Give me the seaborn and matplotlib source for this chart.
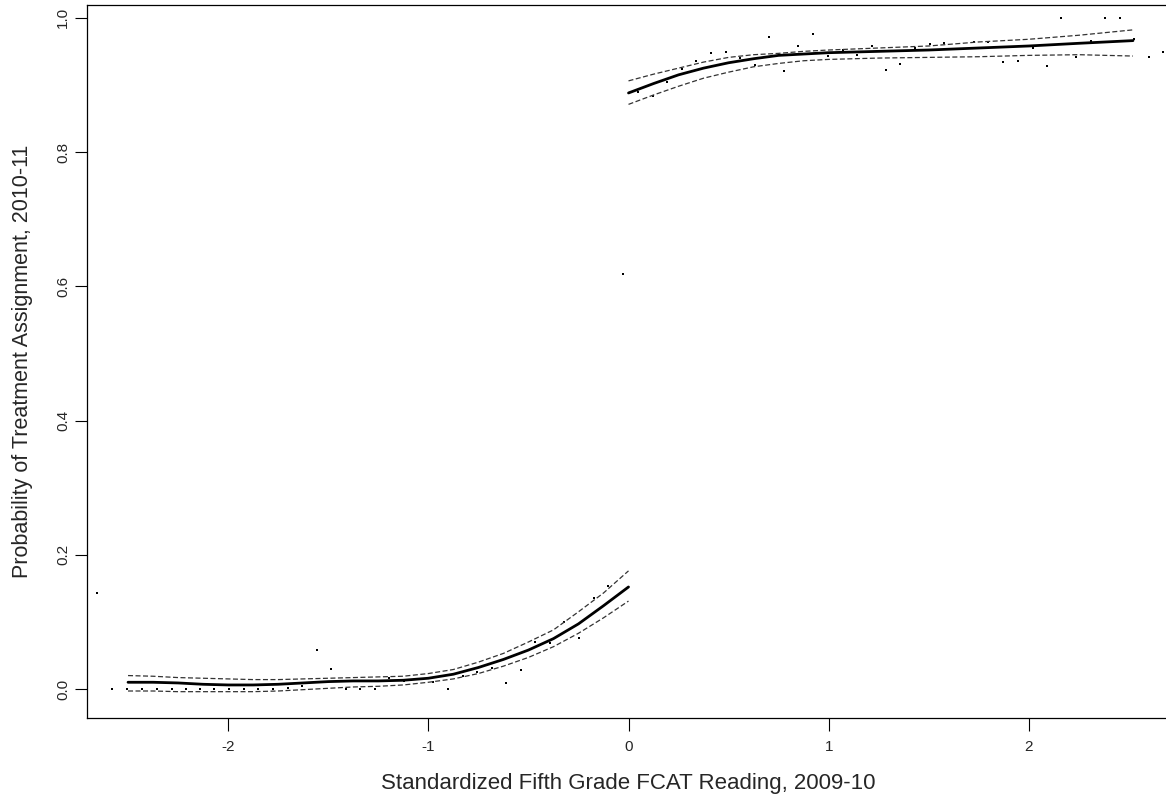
import numpy as np
import pandas as pd
import seaborn as sns
import matplotlib
matplotlib.use("Agg")
import matplotlib.pyplot as plt

# binned means (points)
pt_x = [-2.655, -2.58, -2.505, -2.43, -2.355, -2.28, -2.21, -2.14, -2.07, -1.995,
        -1.92, -1.85, -1.775, -1.70, -1.63, -1.555, -1.485, -1.41, -1.34, -1.265,
        -1.195, -1.12, -1.045, -0.975, -0.90, -0.825, -0.755, -0.68, -0.61, -0.535,
        -0.465, -0.39, -0.32, -0.245, -0.17, -0.10, -0.03,
        0.045, 0.12, 0.19, 0.265, 0.335, 0.41, 0.485, 0.555, 0.63, 0.70,
        0.775, 0.845, 0.92, 0.995, 1.07, 1.14, 1.215, 1.285, 1.355, 1.43,
        1.505, 1.575, 1.655, 1.725, 1.795, 1.87, 1.945, 2.02, 2.09, 2.16,
        2.235, 2.31, 2.38, 2.455, 2.525, 2.60, 2.67]
pt_y = [0.143, 0.0, 0.0, 0.0, 0.0, 0.0, 0.0, 0.0, 0.0, 0.0,
        0.0, 0.0, 0.0, 0.002, 0.004, 0.058, 0.030, 0.0, 0.0, 0.0,
        0.016, 0.012, 0.015, 0.010, 0.0, 0.020, 0.026, 0.031, 0.009, 0.028,
        0.070, 0.069, 0.100, 0.076, 0.136, 0.154, 0.618,
        0.890, 0.884, 0.905, 0.924, 0.936, 0.948, 0.949, 0.940, 0.930, 0.972,
        0.921, 0.958, 0.976, 0.943, 0.952, 0.945, 0.958, 0.922, 0.931, 0.955,
        0.961, 0.963, 0.954, 0.964, 0.964, 0.934, 0.936, 0.955, 0.928, 1.0,
        0.942, 0.966, 1.0, 1.0, 0.969, 0.942, 0.949]

# fitted curve below cutoff
lo_x = [-2.5, -2.375, -2.25, -2.125, -2.0, -1.875, -1.75, -1.625, -1.5, -1.375, -1.25,
        -1.125, -1.0, -0.875, -0.75, -0.625, -0.5, -0.375, -0.25, -0.125, 0.0]
lo_fit = [0.010, 0.010, 0.009, 0.007, 0.006, 0.006, 0.007, 0.009, 0.011, 0.012, 0.012,
          0.013, 0.016, 0.022, 0.032, 0.044, 0.058, 0.075, 0.097, 0.124, 0.152]
lo_upr = [0.020, 0.019, 0.017, 0.016, 0.015, 0.014, 0.014, 0.015, 0.016, 0.017, 0.018,
          0.019, 0.023, 0.029, 0.040, 0.053, 0.070, 0.088, 0.115, 0.143, 0.176]
lo_lwr = [-0.003, -0.003, -0.004, -0.004, -0.004, -0.004, -0.003, -0.001, 0.001, 0.003, 0.004,
          0.006, 0.010, 0.015, 0.023, 0.034, 0.047, 0.063, 0.083, 0.106, 0.131]

# fitted curve above cutoff
hi_x = [0.0, 0.125, 0.25, 0.375, 0.5, 0.625, 0.75, 0.875, 1.0, 1.25, 1.5, 1.75, 2.0, 2.25, 2.52]
hi_fit = [0.888, 0.902, 0.915, 0.925, 0.933, 0.939, 0.944, 0.946, 0.948, 0.950, 0.952,
          0.955, 0.958, 0.962, 0.966]
hi_upr = [0.906, 0.916, 0.925, 0.934, 0.941, 0.945, 0.947, 0.950, 0.952, 0.955, 0.958,
          0.964, 0.968, 0.974, 0.982]
hi_lwr = [0.871, 0.885, 0.898, 0.910, 0.919, 0.927, 0.932, 0.936, 0.938, 0.940, 0.941,
          0.942, 0.944, 0.945, 0.943]

sns.set_style("ticks")
plt.rcParams["font.family"] = ["Liberation Sans", "DejaVu Sans"]
plt.rcParams["axes.unicode_minus"] = False

fig = plt.figure(figsize=(11.66, 7.99), dpi=100)
ax = fig.add_axes([0.0746, 0.1014, 0.928, 0.8923])

sns.scatterplot(x=pt_x, y=pt_y, ax=ax, marker="s", s=2.5, color="black", linewidth=0)

for xs, fit, upr, lwr in [(lo_x, lo_fit, lo_upr, lo_lwr), (hi_x, hi_fit, hi_upr, hi_lwr)]:
    sns.lineplot(x=xs, y=fit, ax=ax, color="black", linewidth=2, estimator=None)
    sns.lineplot(x=xs, y=upr, ax=ax, color="#333333", linewidth=0.9,
                 linestyle=(0, (4, 2)), estimator=None)
    sns.lineplot(x=xs, y=lwr, ax=ax, color="#333333", linewidth=0.9,
                 linestyle=(0, (4, 2)), estimator=None)

ax.set_xlim(-2.705, 2.70)
ax.set_ylim(-0.0432, 1.019)
ax.set_xticks([-2, -1, 0, 1, 2])
ax.set_yticks([0.0, 0.2, 0.4, 0.6, 0.8, 1.0])
ax.set_yticklabels(["0.0", "0.2", "0.4", "0.6", "0.8", "1.0"], rotation=90, va="center")
ax.tick_params(length=9, width=0.8, color="black", labelsize=11)
ax.tick_params(axis="x", pad=6.5)
ax.tick_params(axis="y", pad=3)
for sp in ax.spines.values():
    sp.set_color("black")
    sp.set_linewidth(0.9)

ax.set_xlabel("Standardized Fifth Grade FCAT Reading, 2009-10", fontsize=16, labelpad=14)
ax.set_ylabel("Probability of Treatment Assignment, 2010-11", fontsize=15.5, labelpad=17)

fig.savefig("out.png", dpi=100)
